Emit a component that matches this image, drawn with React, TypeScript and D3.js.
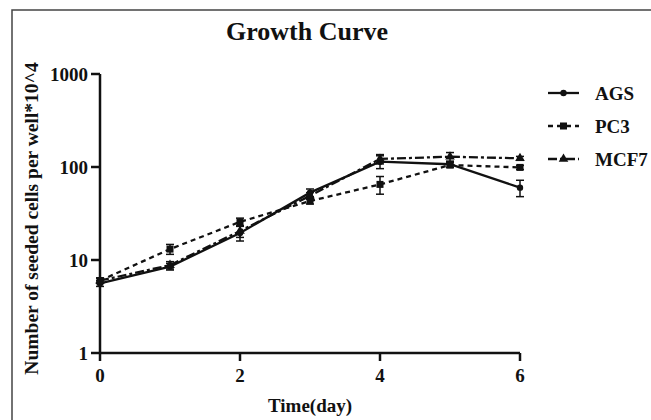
import React from "react";
import * as d3 from "d3";

const days = [0, 1, 2, 3, 4, 5, 6];
const agsMean = [5.6, 8.5, 19.5, 53, 114, 107, 60];
const agsErr = [0.4, 0.7, 3.5, 5, 18, 8, 12];
const pc3Mean = [6.0, 13.1, 25.7, 43, 65, 105, 99];
const pc3Err = [0.4, 1.6, 2.5, 3, 14, 6, 5];
const mcf7Mean = [6.0, 8.8, 20.5, 49, 122, 129, 124];
const mcf7Err = [0.4, 0.8, 3, 4, 14, 14, 6];
const yTicks = [1, 10, 100, 1000];
const xTicks = [0, 2, 4, 6];

const series = [
  { name: "AGS", mean: agsMean, err: agsErr, dash: "none", marker: "circle" },
  { name: "PC3", mean: pc3Mean, err: pc3Err, dash: "5,4", marker: "square" },
  { name: "MCF7", mean: mcf7Mean, err: mcf7Err, dash: "9,3,3,3", marker: "triangle" },
];

const W = 651;
const H = 420;
const m = { left: 100, right: 131, top: 74, bottom: 67 };
const font = "'Liberation Serif', 'Times New Roman', serif";

function Marker({ type, x, y }: { type: string; x: number; y: number }) {
  if (type === "circle") return <circle cx={x} cy={y} r={3.2} fill="#111" />;
  if (type === "square") return <rect x={x - 3.5} y={y - 3.5} width={7} height={7} fill="#111" />;
  const p = d3.symbol().type(d3.symbolTriangle).size(40)();
  return <path d={p || ""} transform={`translate(${x},${y})`} fill="#111" />;
}

export default function App() {
  const x = d3.scaleLinear().domain([0, 6]).range([m.left, W - m.right]);
  const y = d3.scaleLog().domain([1, 1000]).range([H - m.bottom, m.top]);
  const line = d3
    .line<number>()
    .x((_, i) => x(days[i]))
    .y((d) => y(d));

  return (
    <svg
      width={W}
      height={H}
      style={{ position: "absolute", left: 0, top: 0, background: "#fff" }}
      fontFamily={font}
      fontWeight="bold"
    >
      <rect x={12} y={10} width={W} height={H} fill="none" stroke="#444" strokeWidth={1.5} />
      <text x={307} y={40} textAnchor="middle" fontSize={26} fill="#111">
        Growth Curve
      </text>

      {/* axes */}
      <line x1={m.left} x2={m.left} y1={y(1000)} y2={y(1)} stroke="#111" strokeWidth={2.5} />
      <line x1={m.left} x2={x(6)} y1={y(1)} y2={y(1)} stroke="#111" strokeWidth={2.5} />
      {yTicks.map((t) => (
        <g key={t}>
          <line x1={m.left - 9} x2={m.left} y1={y(t)} y2={y(t)} stroke="#111" strokeWidth={2.5} />
          <text x={m.left - 12} y={y(t) + 6.5} textAnchor="end" fontSize={19} fill="#111">
            {t}
          </text>
        </g>
      ))}
      {xTicks.map((t) => (
        <g key={t}>
          <line x1={x(t)} x2={x(t)} y1={y(1)} y2={y(1) + 8} stroke="#111" strokeWidth={2.5} />
          <text x={x(t)} y={y(1) + 29} textAnchor="middle" fontSize={19} fill="#111">
            {t}
          </text>
        </g>
      ))}
      <text x={310} y={412} textAnchor="middle" fontSize={19} fill="#111">
        Time(day)
      </text>
      <text
        transform={`translate(38,${(y(1) + y(1000)) / 2 + 5}) rotate(-90)`}
        textAnchor="middle"
        fontSize={19.5}
        fill="#111"
      >
        Number of seeded cells per well*10^4
      </text>

      {/* series */}
      {series.map((s) => (
        <g key={s.name}>
          <path d={line(s.mean) || ""} fill="none" stroke="#111" strokeWidth={2.3} strokeDasharray={s.dash} />
          {s.mean.map((v, i) => {
            const cx = x(days[i]);
            const y0 = y(v + s.err[i]);
            const y1 = y(Math.max(v - s.err[i], 1));
            return (
              <g key={i}>
                <line x1={cx} x2={cx} y1={y0} y2={y1} stroke="#111" strokeWidth={1.5} />
                <line x1={cx - 4} x2={cx + 4} y1={y0} y2={y0} stroke="#111" strokeWidth={1.5} />
                <line x1={cx - 4} x2={cx + 4} y1={y1} y2={y1} stroke="#111" strokeWidth={1.5} />
                <Marker type={s.marker} x={cx} y={y(v)} />
              </g>
            );
          })}
        </g>
      ))}

      {/* legend */}
      {series.map((s, i) => {
        const ly = 93 + i * 33;
        return (
          <g key={s.name}>
            <line x1={548} x2={579} y1={ly} y2={ly} stroke="#111" strokeWidth={2.3} strokeDasharray={s.dash} />
            <Marker type={s.marker} x={563.5} y={ly} />
            <text x={595} y={ly + 6.5} fontSize={19} fill="#111">
              {s.name}
            </text>
          </g>
        );
      })}
    </svg>
  );
}
